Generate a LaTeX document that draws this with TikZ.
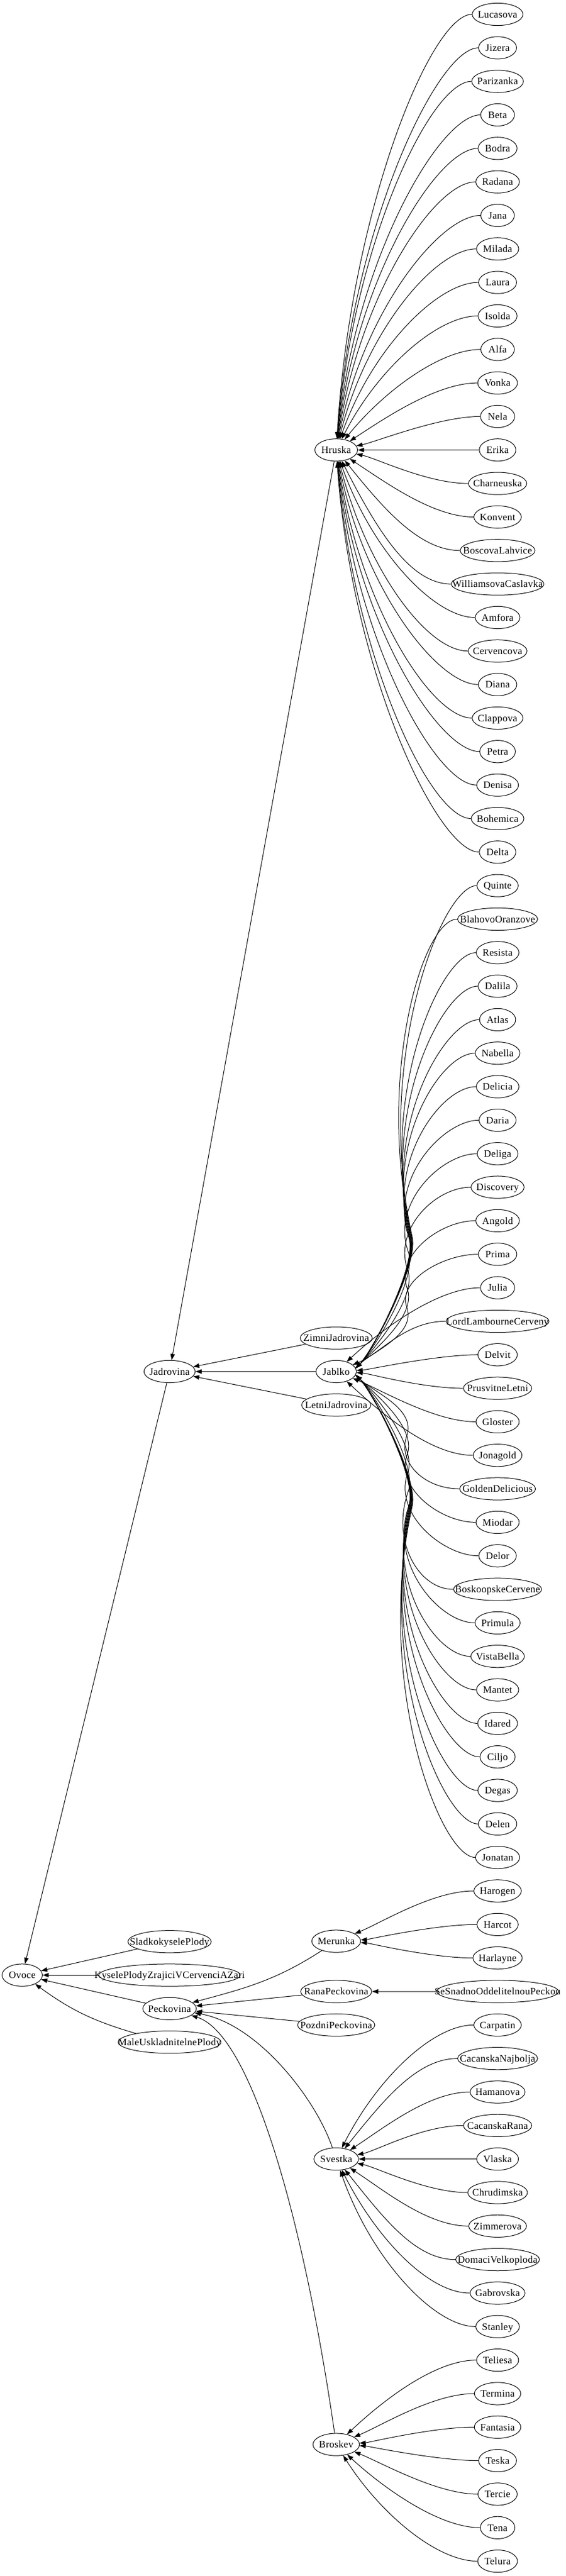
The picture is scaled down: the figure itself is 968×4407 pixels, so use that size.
\documentclass[tikz,border=0pt]{standalone}
\usepackage{fontspec}
\setmainfont{Liberation Serif}
\newfontfamily\gvfont{Liberation Serif}[LetterSpace=2.0]
\newfontfamily\measfont{Liberation Serif}
\usetikzlibrary{shapes.geometric,arrows.meta,calc}
\newlength\gvtw
\newcommand\gvbox[1]{%
  \settowidth\gvtw{\measfont\fontsize{14}{16}\selectfont #1}%
  \makebox[\dimexpr 0.7355\gvtw+21.9pt\relax]{\makebox[0pt]{#1}}%
}
\tikzset{
  gvnode/.style={draw, ellipse, line width=1pt, inner sep=0pt, minimum width=57.3pt, minimum height=38.2pt,
    text height=15pt, text depth=3.5pt, font=\gvfont\fontsize{17}{20}\selectfont},
  edge/.style={draw, line width=1pt, -{Triangle[length=10.5pt,width=7.5pt]}},
}
% node: name, x, y (pixels, downwards), text
\newcommand\gv[4]{%
  \expandafter\xdef\csname gvx#1\endcsname{#2}%
  \expandafter\xdef\csname gvy#1\endcsname{#3}%
  \node[gvnode] (#1) at (#2,-#3) {\gvbox{#4}};%
}
% fan edge child -> parent
\newcommand\fan[2]{%
  \pgfmathsetmacro\gvpx{\csname gvx#2\endcsname}%
  \pgfmathsetmacro\gvpy{\csname gvy#2\endcsname}%
  \pgfmathsetmacro\gvdy{(\csname gvy#1\endcsname-\gvpy)/100}%
  \pgfmathsetmacro\gvth{90*(\gvdy)*(\gvdy)/((\gvdy)*(\gvdy)+2.25)}%
  \pgfmathsetmacro\gvrr{50*abs(\gvdy)+40}%
  \pgfmathsetmacro\gvccx{\gvpx+\gvrr*cos(\gvth)}%
  \pgfmathsetmacro\gvccy{-\gvpy-sign(\gvdy)*\gvrr*sin(\gvth)}%
  \draw[edge] (#1) .. controls ($(#1.west)+(-70,0)$) and (\gvccx,\gvccy) .. (#2);%
}
% bundled edge (for Jablko)
\newcommand\bund[2]{%
  \pgfmathsetmacro\gvpx{\csname gvx#2\endcsname}%
  \pgfmathsetmacro\gvpy{\csname gvy#2\endcsname}%
  \pgfmathsetmacro\gvcy{\csname gvy#1\endcsname}%
  \pgfmathsetmacro\gva{abs(\gvcy-\gvpy)}%
  \ifdim\gva pt<160pt
    \fan{#1}{#2}%
  \else
    \pgfmathsetmacro\gvs{sign(\gvcy-\gvpy)}%
    \pgfmathsetmacro\gvm{min(230,0.55*\gva)}%
    \pgfmathsetmacro\gvMy{\gvpy+\gvs*\gvm}%
    \pgfmathsetmacro\gvMx{695+0.015*(\gva-160)}%
    \pgfmathsetmacro\gvcx{\gvMx-0.08*\gva}%
    \pgfmathsetmacro\gvcyy{\gvMy+\gvs*0.5*(\gva-\gvm)}%
    \pgfmathsetmacro\gvL{veclen(\gvMx-\gvcx,\gvMy-\gvcyy)}%
    \pgfmathsetmacro\gvdx{\gvMx+(\gvMx-\gvcx)*50/\gvL}%
    \pgfmathsetmacro\gvdyy{\gvMy+(\gvMy-\gvcyy)*50/\gvL}%
    \pgfmathsetmacro\gvoff{-28*\gvs}%
    \ifdim\gvs pt<0pt \def\gvang{10}\else\def\gvang{-10}\fi
    \draw[edge] (#1) .. controls ($(#1.west)+(-60,0)$) and (\gvcx,-\gvcyy) .. (\gvMx,-\gvMy)
      .. controls (\gvdx,-\gvdyy) and ($(#2.\gvang)+(28,\gvoff)$) .. (#2.\gvang);%
  \fi
}
\begin{document}
\begin{tikzpicture}[x=1pt,y=1pt]
\useasboundingbox (0,0) rectangle (968,-4407);
% right column
\foreach \nm [count=\i from 0] in {Lucasova,Jizera,Parizanka,Beta,Bodra,Radana,Jana,Milada,Laura,Isolda,Alfa,Vonka,Nela,Erika,Charneuska,Konvent,BoscovaLahvice,WilliamsovaCaslavka,Amfora,Cervencova,Diana,Clappova,Petra,Denisa,Bohemica,Delta,Quinte,BlahovoOranzove,Resista,Dalila,Atlas,Nabella,Delicia,Daria,Deliga,Discovery,Angold,Prima,Julia,LordLambourneCerveny,Delvit,PrusvitneLetni,Gloster,Jonagold,GoldenDelicious,Miodar,Delor,BoskoopskeCervene,Primula,VistaBella,Mantet,Idared,Ciljo,Degas,Delen,Jonatan,Harogen,Harcot,Harlayne,SeSnadnoOddelitelnouPeckou,Carpatin,CacanskaNajbolja,Hamanova,CacanskaRana,Vlaska,Chrudimska,Zimmerova,DomaciVelkoploda,Gabrovska,Stanley,Teliesa,Termina,Fantasia,Teska,Tercie,Tena,Telura}{%
  \pgfmathsetmacro\yy{24.5+57.33*\i}%
  \gv{\nm}{851}{\yy}{\nm}%
}
% middle column
\gv{Hruska}{575}{769.8}{Hruska}
\gv{ZimniJadrovina}{575}{2289.1}{ZimniJadrovina}
\gv{Jablko}{575}{2346.4}{Jablko}
\gv{LetniJadrovina}{575}{2403.7}{LetniJadrovina}
\gv{Merunka}{575}{3321}{Merunka}
\gv{RanaPeckovina}{575}{3407}{RanaPeckovina}
\gv{PozdniPeckovina}{575}{3464.3}{PozdniPeckovina}
\gv{Svestka}{575}{3693.6}{Svestka}
\gv{Broskev}{575}{4182}{Broskev}
% left columns
\gv{Jadrovina}{290}{2346.4}{Jadrovina}
\gv{SladkokyselePlody}{290}{3321.7}{SladkokyselePlody}
\gv{KyselePlody}{290}{3379}{KyselePlodyZrajiciVCervenciAZari}
\gv{Peckovina}{290}{3436.3}{Peckovina}
\gv{MaleUskladnitelnePlody}{290}{3493.6}{MaleUskladnitelnePlody}
\gv{Ovoce}{38}{3379}{Ovoce}
% fans
\foreach \nm in {Lucasova,Jizera,Parizanka,Beta,Bodra,Radana,Jana,Milada,Laura,Isolda,Alfa,Vonka,Nela,Erika,Charneuska,Konvent,BoscovaLahvice,WilliamsovaCaslavka,Amfora,Cervencova,Diana,Clappova,Petra,Denisa,Bohemica,Delta}{\fan{\nm}{Hruska}}
\foreach \nm in {Quinte,BlahovoOranzove,Resista,Dalila,Atlas,Nabella,Delicia,Daria,Deliga,Discovery,Angold,Prima,Julia,LordLambourneCerveny,Delvit,PrusvitneLetni,Gloster,Jonagold,GoldenDelicious,Miodar,Delor,BoskoopskeCervene,Primula,VistaBella,Mantet,Idared,Ciljo,Degas,Delen,Jonatan}{\bund{\nm}{Jablko}}
\foreach \nm in {Harogen,Harcot,Harlayne}{\fan{\nm}{Merunka}}
\foreach \nm in {Carpatin,CacanskaNajbolja,Hamanova,CacanskaRana,Vlaska,Chrudimska,Zimmerova,DomaciVelkoploda,Gabrovska,Stanley}{\fan{\nm}{Svestka}}
\foreach \nm in {Teliesa,Termina,Fantasia,Teska,Tercie,Tena,Telura}{\fan{\nm}{Broskev}}
\draw[edge] (SeSnadnoOddelitelnouPeckou) -- (RanaPeckovina);
% inner edges
\draw[edge] (Hruska) -- (Jadrovina);
\draw[edge] (ZimniJadrovina) -- (Jadrovina);
\draw[edge] (Jablko) -- (Jadrovina);
\draw[edge] (LetniJadrovina) -- (Jadrovina);
\draw[edge] (Merunka) to[out=213,in=15] (Peckovina);
\draw[edge] (RanaPeckovina) -- (Peckovina);
\draw[edge] (PozdniPeckovina) -- (Peckovina);
\draw[edge] (Svestka) .. controls (540,-3590) and (440,-3462) .. (Peckovina);
\draw[edge] (Broskev) .. controls (520,-3800) and (430,-3480) .. (Peckovina);
\draw[edge] (Jadrovina) -- (Ovoce);
\draw[edge] (SladkokyselePlody) -- (Ovoce);
\draw[edge] (KyselePlody) -- (Ovoce);
\draw[edge] (Peckovina) -- (Ovoce);
\draw[edge] (MaleUskladnitelnePlody) to[bend left=10] (Ovoce);
\end{tikzpicture}
\end{document}
